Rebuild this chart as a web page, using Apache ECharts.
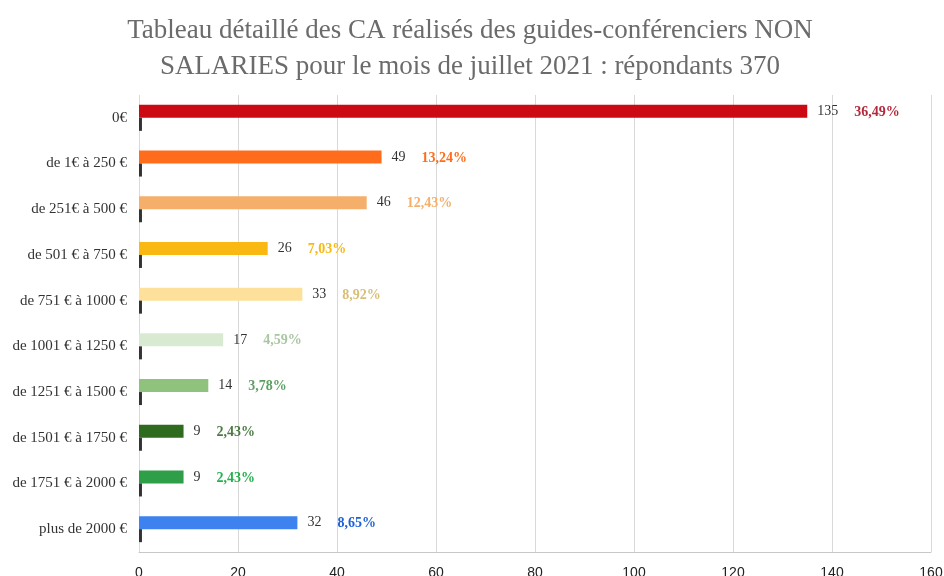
<!DOCTYPE html>
<html>
<head>
<meta charset="utf-8">
<script src="https://cdn.jsdelivr.net/npm/echarts@6/dist/echarts.min.js"></script>
<style>html,body{margin:0;padding:0;background:#fff}#c{width:944px;height:576px}</style>
</head>
<body>
<div id="c"></div>
<script>
const titleText = 'Tableau détaillé des CA réalisés des guides-conférenciers NON\nSALARIES pour le mois de juillet 2021 : répondants 370';
const categories = ['0€','de 1€ à 250 €','de 251€ à 500 €','de 501 € à 750 €','de 751 € à 1000 €','de 1001 € à 1250 €','de 1251 € à 1500 €','de 1501 € à 1750 €','de 1751 € à 2000 €','plus de 2000 €'];
const counts = [135, 49, 46, 26, 33, 17, 14, 9, 9, 32];
const pctLabels = ['36,49%','13,24%','12,43%','7,03%','8,92%','4,59%','3,78%','2,43%','2,43%','8,65%'];
const stubValues = [0.6, 0.6, 0.6, 0.6, 0.6, 0.6, 0.6, 0.6, 0.6, 0.6];
const xTicks = [0, 20, 40, 60, 80, 100, 120, 140, 160];

const barColors = ['#CC0A14','#FF6D1C','#F5AF6B','#F9B812','#FDE19A','#D8EBD2','#8FC27C','#2E6B1F','#2F9E48','#3D82EE'];
const pctColors = ['#B3283A','#FF6D1C','#F5AF6B','#F9B812','#D8BE78','#A9C6A2','#5E9F62','#4B7B43','#24B04C','#1D62D6'];

const chart = echarts.init(document.getElementById('c'), null, {renderer:'canvas'});
const serif = '"Liberation Serif", "DejaVu Serif", serif';

const mainData = counts.map((v, i) => ({
  value: v,
  itemStyle: { color: barColors[i] },
  label: {
    rich: {
      v: { color: '#333', fontFamily: serif, fontSize: 14 },
      p: { color: pctColors[i], fontFamily: serif, fontSize: 14, fontWeight: 'bold', padding: [2, 0, 0, 16] }
    }
  }
}));

chart.setOption({
  animation: false,
  title: {
    text: titleText,
    left: 465,
    textAlign: 'center',
    top: 8,
    textStyle: { fontFamily: serif, fontSize: 27, fontWeight: 'normal', color: '#6b6b6b', lineHeight: 36 }
  },
  grid: { left: 139, right: 13, top: 95, bottom: 24, containLabel: false, outerBoundsMode: 'none' },
  xAxis: {
    type: 'value', min: 0, max: 160, interval: 20,
    axisLine: { show: true, lineStyle: { color: '#c8c8c8' } },
    axisTick: { show: false },
    splitLine: { show: true, lineStyle: { color: '#d9d9d9' } },
    axisLabel: { color: '#222', fontFamily: '"Liberation Sans", Arial, sans-serif', fontSize: 14, margin: 14,
      formatter: v => xTicks.includes(v) ? String(v) : '' }
  },
  yAxis: {
    type: 'category', data: categories, inverse: true,
    axisLine: { show: false }, axisTick: { show: false },
    axisLabel: { color: '#333', fontFamily: serif, fontSize: 15, margin: 12 }
  },
  series: [
    {
      type: 'bar', data: mainData, barWidth: 13, barGap: '0%',
      label: {
        show: true, position: 'right', distance: 10,
        formatter: p => '{v|' + p.value + '}{p|' + pctLabels[p.dataIndex] + '}'
      }
    },
    {
      type: 'bar', data: stubValues, barWidth: 13, barGap: '0%',
      itemStyle: { color: '#333' }, silent: true
    }
  ]
});
</script>
</body>
</html>
